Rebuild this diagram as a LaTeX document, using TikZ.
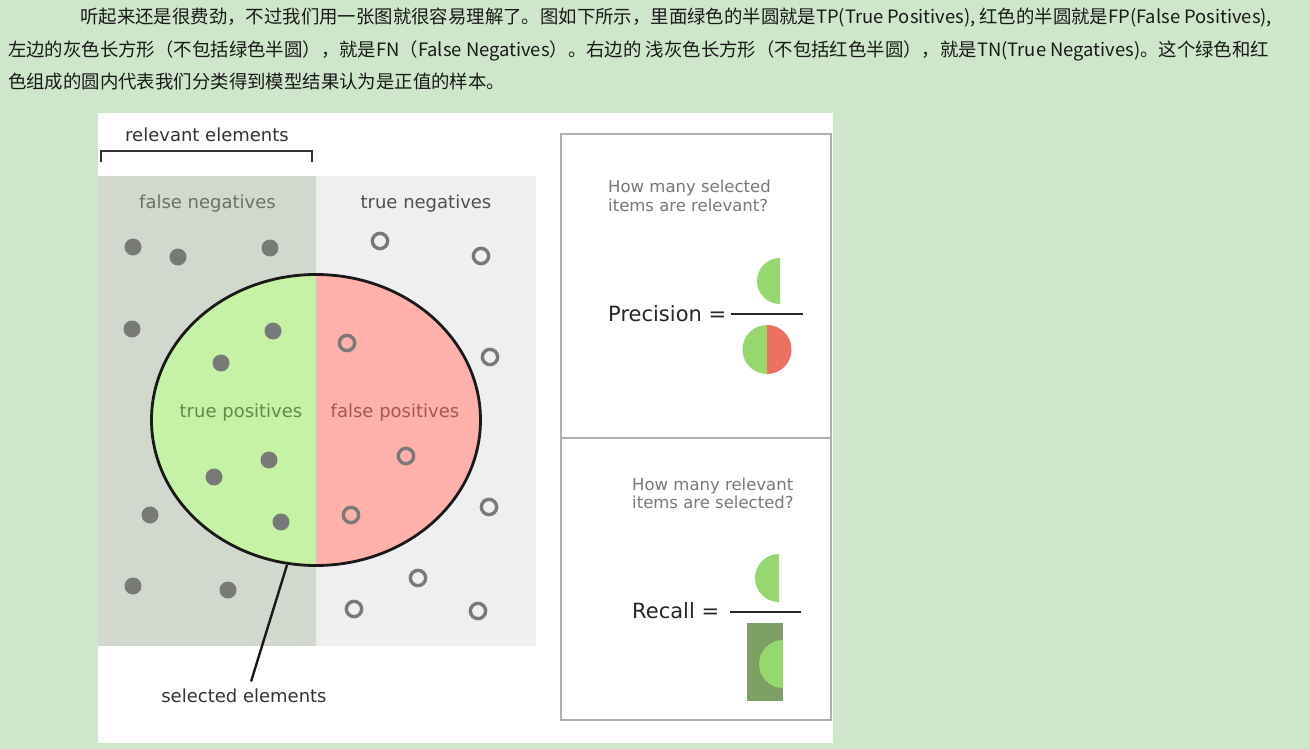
\documentclass[tikz,border=0pt]{standalone}
\usepackage{fontspec}
\setmainfont{DejaVu Sans}
\newfontfamily\cjk{Noto Sans CJK SC}

\definecolor{pagebg}{RGB}{206,231,202}
\definecolor{fnfill}{RGB}{210,216,206}
\definecolor{tnfill}{RGB}{239,239,239}
\definecolor{tpgreen}{RGB}{198,242,166}
\definecolor{fppink}{RGB}{255,176,170}
\definecolor{dotgray}{RGB}{120,122,120}
\definecolor{tptext}{RGB}{95,140,70}
\definecolor{fptext}{RGB}{165,85,85}
\definecolor{fntext}{RGB}{105,115,100}
\definecolor{tntext}{RGB}{80,80,80}
\definecolor{asktext}{RGB}{120,120,120}
\definecolor{halfgreen}{RGB}{150,215,110}
\definecolor{halfred}{RGB}{238,112,96}
\definecolor{relbox}{RGB}{125,160,100}
\definecolor{panelline}{RGB}{175,175,175}

% picture frame and split line (pixels)
\newcommand*{\boxleft}{98}
\newcommand*{\boxright}{833}
\newcommand*{\boxtop}{113}
\newcommand*{\boxbottom}{743}
\newcommand*{\splitx}{316}

\begin{document}
\begin{tikzpicture}
[
	x=1pt, y=-1pt,
	fulldot/.style={circle,fill=dotgray,inner sep=0pt,minimum size=17pt},
	ringdot/.style={circle,draw=dotgray,line width=3.4pt,inner sep=0pt,minimum size=15.3pt},
	lbl/.style={anchor=base,inner sep=0pt,font=\fontsize{18}{21}\selectfont},
	ask/.style={anchor=base west,inner sep=0pt,text=asktext,font=\fontsize{16.5}{19}\selectfont},
	ratio/.style={anchor=base west,inner sep=0pt,text=black!85,font=\fontsize{21}{24}\selectfont},
	para/.style={anchor=base west,inner sep=0pt,text=black!90,font=\cjk\fontsize{18.4}{22}\selectfont},
	pointer/.style={line width=2.4pt,black!90}
]

	% page
	\useasboundingbox (0,0) rectangle (1309,749);
	\fill[pagebg] (0,0) rectangle (1309,749);

	% text above the picture
	\node[para] (line1) at (80,23.5) {听起来还是很费劲，不过我们用一张图就很容易理解了。图如下所示，里面绿色的半圆就是TP(True Positives), 红色的半圆就是FP(False Positives),};
	\node[para] (line2) at (8,56.5) {左边的灰色长方形（不包括绿色半圆），就是FN（False Negatives）。右边的 浅灰色长方形（不包括红色半圆），就是TN(True Negatives)。这个绿色和红};
	\node[para] (line3) at (8,89) {色组成的圆内代表我们分类得到模型结果认为是正值的样本。};

	% picture
	\fill[white] (\boxleft,\boxtop) rectangle (\boxright,\boxbottom);
	\fill[fnfill] (\boxleft,176) rectangle (\splitx,646);
	\fill[tnfill] (\splitx,176) rectangle (536,646);

	% relevant bracket
	\node[lbl,text=black!80] (relevant) at (207,142) {relevant elements};
	\draw[line width=2.6pt,black!80] (101,162) -- (101,151) -- (312,151) -- (312,162);

	% selected circle
	\begin{scope}
		\clip (\boxleft,\boxtop) rectangle (\splitx,\boxbottom);
		\fill[tpgreen] (\splitx,420) ellipse [x radius=164.5, y radius=145.5];
	\end{scope}
	\begin{scope}
		\clip (\splitx,\boxtop) rectangle (\boxright,\boxbottom);
		\fill[fppink] (\splitx,420) ellipse [x radius=164.5, y radius=145.5];
	\end{scope}
	\draw[line width=2.8pt,black!90] (\splitx,420) ellipse [x radius=164.5, y radius=145.5];

	% relevant items
	\foreach \px/\py [count=\i] in {133/247,178/257,270/248,132/329,273/331,221/363,269/460,214/477,150/515,281/522,133/586,228/590} {
		\node[fulldot] (hit\i) at (\px,\py) {};
	}
	% other items
	\foreach \px/\py [count=\i] in {380/241,481/256,347/343,490/357,406/456,351/515,489/507,418/578,354/609,478/611} {
		\node[ringdot] (miss\i) at (\px,\py) {};
	}

	% labels
	\node[lbl,text=fntext] (fn) at (207.5,208) {false negatives};
	\node[lbl,text=tntext] (tn) at (426,208) {true negatives};
	\node[lbl,text=tptext] (tp) at (241,417) {true positives};
	\node[lbl,text=fptext] (fp) at (395,417) {false positives};

	% pointer
	\coordinate (ptr) at (287,565);
	\node[lbl,text=black!80] (sel) at (244,702) {selected elements};
	\draw[pointer,shorten >=7pt] (ptr) -- ([xshift=5pt]sel.north);

	% right panel
	\draw[panelline,line width=1.3pt] (561,134) rectangle (831,720);
	\draw[panelline,line width=1.3pt] (561,438) -- (831,438);

	% precision
	\node[ask] (ask1a) at (608,193) {How many selected};
	\node[ask] (ask1b) at (608,211) {items are relevant?};
	\node[ratio] (prec) at (608,321) {Precision =};
	\draw[line width=2pt,black!85] (731,314) -- (803,314);
	\fill[halfgreen] (780,258) arc[start angle=270, end angle=90, radius=23] -- cycle;
	\fill[halfgreen] (767,325) arc[start angle=270, end angle=90, radius=24.5] -- cycle;
	\fill[halfred] (767,325) arc[start angle=-90, end angle=90, radius=24.5] -- cycle;

	% recall
	\node[ask] (ask2a) at (632,490) {How many relevant};
	\node[ask] (ask2b) at (632,508) {items are selected?};
	\node[ratio] (rec) at (632,618) {Recall =};
	\draw[line width=2pt,black!85] (730,612) -- (801,612);
	\fill[halfgreen] (779,554) arc[start angle=270, end angle=90, radius=24] -- cycle;
	\fill[relbox] (747,623) rectangle (783,701);
	\fill[halfgreen] (783,640) arc[start angle=270, end angle=90, radius=24] -- cycle;

\end{tikzpicture}
\end{document}
